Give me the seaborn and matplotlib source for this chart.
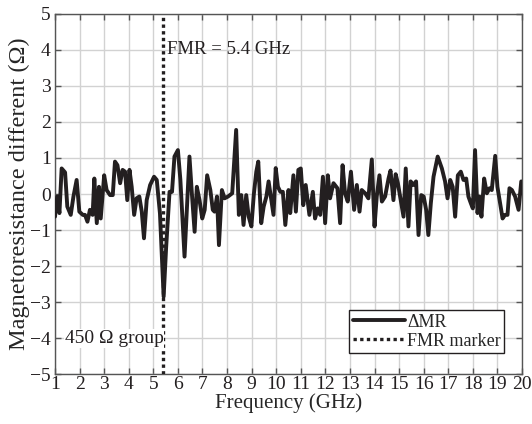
import matplotlib
matplotlib.use("Agg")
import matplotlib.pyplot as plt
import seaborn as sns
import pandas as pd

# Frequency sweep (GHz) and measured magnetoresistance difference (Ohm)
freq_ghz = [
    1.00, 1.09, 1.18, 1.27, 1.41, 1.50, 1.64, 1.75, 1.88, 1.99,
    2.13, 2.22, 2.32, 2.42, 2.53, 2.60, 2.70, 2.79, 2.86, 3.00,
    3.10, 3.24, 3.35, 3.44, 3.54, 3.65, 3.75, 3.85, 3.94, 4.03,
    4.12, 4.22, 4.32, 4.43, 4.53, 4.62, 4.73, 4.87, 5.03, 5.14,
    5.27, 5.34, 5.42, 5.52, 5.66, 5.76, 5.86, 6.00, 6.10, 6.27,
    6.47, 6.57, 6.68, 6.77, 6.88, 6.99, 7.09, 7.19, 7.32, 7.42,
    7.49, 7.59, 7.67, 7.79, 7.90, 8.04, 8.21, 8.37, 8.48, 8.58,
    8.67, 8.78, 8.88, 8.99, 9.09, 9.19, 9.27, 9.39, 9.49, 9.60,
    9.69, 9.80, 9.89, 9.98, 10.07, 10.17, 10.27, 10.37, 10.50, 10.57,
    10.70, 10.80, 10.90, 11.00, 11.10, 11.20, 11.35, 11.49, 11.58, 11.69,
    11.79, 11.90, 11.99, 12.10, 12.19, 12.33, 12.49, 12.60, 12.70, 12.80,
    12.91, 13.04, 13.17, 13.28, 13.39, 13.48, 13.62, 13.75, 13.89, 14.00,
    14.09, 14.20, 14.30, 14.43, 14.57, 14.65, 14.77, 14.86, 14.95, 15.04,
    15.18, 15.27, 15.38, 15.47, 15.58, 15.69, 15.79, 15.90, 16.00, 16.10,
    16.19, 16.29, 16.40, 16.57, 16.74, 16.87, 16.97, 17.08, 17.18, 17.28,
    17.39, 17.51, 17.62, 17.73, 17.82, 17.92, 18.00, 18.09, 18.19, 18.27,
    18.35, 18.46, 18.57, 18.68, 18.77, 18.91, 19.00, 19.11, 19.21, 19.31,
    19.41, 19.49, 19.59, 19.72, 19.86, 19.97,
]
delta_mr = [
    -0.63, -0.07, -0.53, 0.71, 0.60, -0.35, -0.58, -0.07, 0.39, -0.49,
    -0.58, -0.58, -0.77, -0.44, -0.58, 0.43, -0.81, 0.20, -0.68, 0.52,
    0.11, -0.03, -0.03, 0.90, 0.80, 0.30, 0.67, 0.62, -0.17, 0.67,
    0.20, -0.58, -0.12, -0.07, -0.49, -1.23, -0.17, 0.25, 0.48, 0.39,
    -0.54, -1.60, -2.85, -1.50, 0.06, 0.06, 1.04, 1.22, 0.40, -1.74,
    1.04, 0.00, -1.05, 0.20, -0.17, -0.68, -0.44, 0.52, 0.11, -0.44,
    -0.49, -0.07, -1.42, 0.11, -0.12, -0.07, 0.02, 1.78, -0.58, -0.03,
    -0.86, -0.03, -0.63, -0.90, 0.00, 0.62, 0.90, -0.81, -0.35, -0.07,
    0.35, -0.17, -0.58, 0.72, 0.20, 0.06, 0.06, -0.86, 0.11, -0.53,
    0.52, -0.49, 0.67, 0.71, -0.31, 0.25, -0.58, 0.06, -0.68, -0.40,
    -0.58, 0.48, -0.81, 0.52, -0.12, 0.30, 0.16, -0.81, 0.80, 0.02,
    -0.21, 0.62, -0.44, 0.25, -0.49, 0.11, 0.02, -0.12, 0.96, -0.90,
    -0.07, 0.52, -0.21, -0.07, 0.43, 0.65, -0.17, 0.55, 0.30, -0.07,
    -0.63, 0.71, -0.90, 0.35, 0.25, 0.35, -1.14, -0.03, -0.07, -0.44,
    -1.14, -0.26, 0.48, 1.04, 0.71, 0.35, -0.12, 0.39, 0.20, -0.63,
    0.52, 0.62, 0.39, 0.43, -0.07, -0.26, -0.40, 1.22, -0.53, -0.07,
    -0.63, 0.43, 0.02, 0.16, 0.11, 1.06, 0.20, -0.26, -0.68, -0.58,
    -0.58, 0.16, 0.11, -0.07, -0.44, 0.35,
]
fmr_ghz = 5.4
x_ticks = list(range(1, 21))
y_ticks = list(range(-5, 6))

sns.set_theme(style="whitegrid")
plt.rcParams["font.family"] = ["Liberation Serif", "DejaVu Serif"]
plt.rcParams["mathtext.fontset"] = "stix"

df = pd.DataFrame({"Frequency (GHz)": freq_ghz, "dMR": delta_mr})

fig = plt.figure(figsize=(5.32, 4.24), dpi=100)
ax = fig.add_axes([0.1034, 0.1179, 0.8778, 0.8491])

sns.lineplot(data=df, x="Frequency (GHz)", y="dMR", ax=ax, color="#231f20",
             linewidth=2.8, label="\u0394MR", estimator=None, sort=False, zorder=3)
ax.axvline(fmr_ghz, color="#231f20", linestyle=(0, (1, 1)), linewidth=2.4,
           label="FMR marker", zorder=4)

ax.set_xlim(1, 20)
ax.set_ylim(-5, 5)
ax.set_xticks(x_ticks)
ax.set_yticks(y_ticks)
ax.set_yticklabels([f"\u2212{abs(v)}" if v < 0 else str(v) for v in y_ticks])
ax.set_xlabel("Frequency (GHz)", fontsize=15, labelpad=0)
ax.set_ylabel("Magnetoresistance different (\u03a9)", fontsize=17.5, labelpad=0)

ax.grid(True, color="#d2d2d2", linewidth=1.0)
ax.set_facecolor("white")
for side in ax.spines.values():
    side.set_color("#555555")
    side.set_linewidth(1.0)
ax.tick_params(axis="both", which="both", direction="in", length=4, width=1,
               color="#555555", labelsize=14, top=True, right=True,
               bottom=True, left=True, pad=3, labelcolor="#231f20")
ax.tick_params(axis="x", pad=1.5)

ax.text(5.55, 4.0, "FMR = 5.4 GHz", fontsize=13.5, va="center", ha="left",
        color="#231f20", zorder=5)
ax.text(1.4, -4.02, "450 \u03a9 group", fontsize=14, va="center", ha="left",
        color="#231f20", zorder=5,
        bbox=dict(facecolor="white", edgecolor="none", pad=0.5))

leg = ax.legend(loc="lower right", bbox_to_anchor=(0.962, 0.058), frameon=True,
                fancybox=False, fontsize=13, handlelength=2.9,
                handletextpad=0.1, borderpad=0.2, labelspacing=0.1,
                borderaxespad=0)
leg.get_frame().set_edgecolor("#231f20")
leg.get_frame().set_linewidth(1.0)
leg.get_frame().set_alpha(1)

fig.savefig("out.png", dpi=100)
